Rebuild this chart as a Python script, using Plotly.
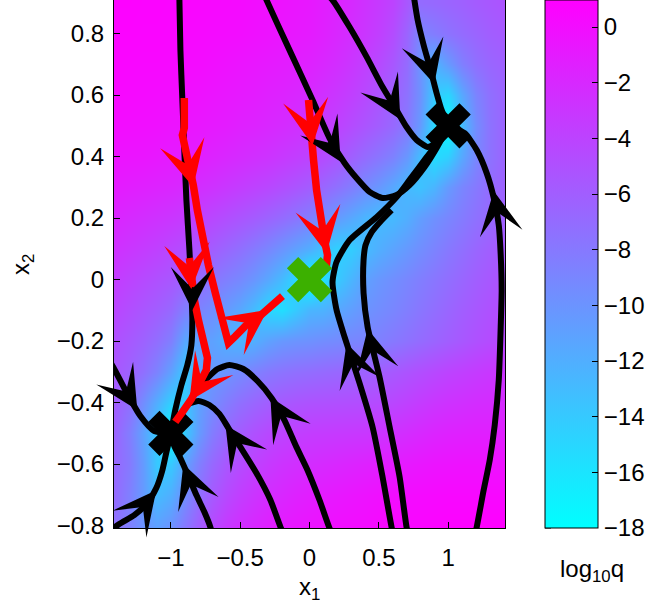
import plotly.graph_objects as go

# ---------------- heat map data (log10 q) ----------------
GRID_X = [-1.4, -1.3, -1.2, -1.1, -1.0, -0.9, -0.8, -0.7, -0.6, -0.5, -0.4, -0.3, -0.2, -0.1, 0.0,
          0.1, 0.2, 0.3, 0.4, 0.5, 0.6, 0.7, 0.8, 0.9, 1.0, 1.1, 1.2, 1.3, 1.4]
GRID_Y = [-0.8, -0.7, -0.6, -0.5, -0.4, -0.3, -0.2, -0.1, 0.0, 0.1, 0.2, 0.3, 0.4, 0.5, 0.6, 0.7, 0.8, 0.9]
LOG10Q = [
    [-7.5, -8.5, -10, -11, -10, -8, -6, -4.5, -3.3, -2.5, -1.9, -1.4, -1.0, -0.7, -0.5, -0.3, -0.1, 0, 0.1, 0.3, 0.4, 0.5, 0.6, 0.7, 0.8, 0.8, 0.9, 0.9, 1.0],
    [-7, -8.5, -10.5, -13, -12, -9.5, -7.3, -5.7, -4.5, -3.6, -2.9, -2.3, -1.9, -1.5, -1.2, -1, -0.8, -0.6, -0.4, -0.2, 0, 0.1, 0.2, 0.3, 0.4, 0.4, 0.4, 0.4, 0.4],
    [-6.8, -8, -10.5, -14, -14, -11, -8.5, -6.8, -5.5, -4.6, -3.9, -3.3, -2.8, -2.5, -2.3, -2.1, -1.9, -1.7, -1.5, -1.3, -1.1, -0.9, -0.7, -0.5, -0.4, -0.3, -0.3, -0.3, -0.3],
    [-6.5, -8.3, -11, -14, -18, -14, -10.5, -8.3, -6.8, -5.8, -5, -4.4, -4, -3.7, -3.5, -3.4, -3.3, -3.2, -3.1, -2.9, -2.6, -2.3, -2, -1.7, -1.5, -1.4, -1.3, -1.3, -1.3],
    [-6, -7.2, -9.5, -12, -14.5, -14, -11, -9.5, -8.3, -7.3, -6.6, -6, -5.6, -5.3, -5.1, -5, -4.9, -4.8, -4.7, -4.5, -4.2, -3.8, -3.4, -3, -2.7, -2.5, -2.3, -2.2, -2.1],
    [-5.5, -6.3, -7.3, -8.8, -11, -14, -11.5, -10.5, -10, -9.3, -8.6, -8, -7.6, -7.3, -7.1, -6.9, -6.7, -6.5, -6.3, -6, -5.6, -5.2, -4.8, -4.4, -4, -3.7, -3.4, -3.1, -2.9],
    [-5, -5.6, -6.3, -7.2, -8.5, -11.5, -11, -11, -12, -12.5, -12, -11, -10.3, -10, -9.8, -9.5, -9.3, -9, -8.8, -8.5, -8, -7.5, -7, -6.5, -6, -5.5, -5, -4.6, -4.3],
    [-4.2, -4.8, -5.4, -6, -6.8, -8.5, -8.8, -9.5, -10.5, -11.5, -13, -15, -15.5, -14, -12.5, -12.3, -11.5, -10.8, -10, -9.5, -9, -8.4, -7.8, -7.2, -6.6, -6, -5.5, -5, -4.6],
    [-3.5, -4, -4.5, -5, -5.5, -6.2, -7, -7.8, -8.5, -9.2, -10.2, -11.5, -13, -15, -18, -15.5, -14, -12.5, -11, -10.2, -9.6, -9, -8.4, -7.8, -7.2, -6.6, -6, -5.5, -5],
    [-2.6, -3, -3.4, -3.8, -4.3, -4.8, -5.3, -5.9, -6.6, -7.3, -8.1, -9, -10, -11, -12, -13.5, -14.5, -14.3, -13, -12, -11.2, -10.4, -9.6, -8.8, -8, -7.3, -6.6, -6, -5.5],
    [-1.8, -2.1, -2.4, -2.7, -3, -3.4, -3.8, -4.3, -4.8, -5.3, -5.8, -6.4, -7, -7.7, -8.4, -9.4, -10.5, -11.5, -12.5, -13, -12.8, -12, -10.8, -9.8, -9, -8.2, -7.4, -6.8, -6.2],
    [-1, -1.2, -1.4, -1.6, -1.8, -2.1, -2.4, -2.7, -3.1, -3.5, -3.9, -4.3, -4.8, -5.3, -5.9, -6.6, -7.4, -8.3, -9.3, -10.3, -11.5, -12.8, -13.5, -12.5, -10.5, -9, -8, -7, -6.3],
    [-0.4, -0.5, -0.6, -0.8, -1, -1.1, -1.3, -1.6, -1.9, -2.2, -2.5, -2.8, -3.2, -3.6, -4, -4.6, -5.3, -6.1, -7, -7.8, -8.7, -10.3, -13, -15.5, -14.5, -11.5, -9, -7.5, -6.5],
    [0.1, 0, -0.1, -0.2, -0.4, -0.5, -0.7, -0.9, -1.1, -1.4, -1.6, -1.9, -2.2, -2.5, -2.8, -3.3, -3.9, -4.6, -5.3, -6, -6.8, -8, -10.5, -15, -18, -13, -9.5, -7.5, -6.5],
    [0.4, 0.3, 0.2, 0.1, 0, -0.1, -0.3, -0.5, -0.7, -0.9, -1.1, -1.4, -1.6, -1.9, -2.1, -2.6, -3.1, -3.7, -4.4, -5.2, -6.2, -7.5, -9.8, -14, -15, -11.5, -8.8, -7.3, -6.5],
    [0.6, 0.5, 0.4, 0.4, 0.3, 0.2, 0.1, -0.1, -0.3, -0.5, -0.7, -0.9, -1.1, -1.3, -1.5, -1.9, -2.4, -3, -3.7, -4.5, -5.5, -7, -10, -12.5, -10.5, -8.5, -7.3, -6.6, -6.2],
    [0.7, 0.7, 0.6, 0.6, 0.5, 0.4, 0.3, 0.2, 0.1, 0, -0.2, -0.4, -0.6, -0.8, -1, -1.4, -1.9, -2.4, -3, -3.7, -4.7, -6.5, -9, -8.3, -7.6, -7, -6.5, -6, -5.7],
    [0.8, 0.8, 0.7, 0.7, 0.6, 0.6, 0.5, 0.4, 0.3, 0.2, 0, -0.2, -0.4, -0.6, -0.8, -1.2, -1.6, -2.1, -2.7, -3.3, -4, -5.5, -7, -6.8, -6.5, -6.2, -5.8, -5.5, -5.2],
]

# ---------------- trajectories (black) ----------------
BLACK_A = [(-0.939, 0.925), (-0.931, 0.746), (-0.917, 0.584), (-0.903, 0.421), (-0.888, 0.259),
           (-0.866, 0.096), (-0.852, -0.034), (-0.845, -0.132), (-0.852, -0.213), (-0.881, -0.278),
           (-0.924, -0.343), (-0.968, -0.424), (-1.0, -0.5)]
BLACK_B = [(-1.48, -0.831), (-1.372, -0.795), (-1.264, -0.766), (-1.170, -0.727), (-1.105, -0.678),
           (-1.061, -0.620), (-1.032, -0.561), (-1.0, -0.5)]
BLACK_C = [(-1.48, -0.236), (-1.415, -0.285), (-1.321, -0.366), (-1.220, -0.444), (-1.119, -0.493),
           (-1.0, -0.5)]
BLACK_D = [(0.181, -0.847), (0.144, -0.808), (0.072, -0.717), (-0.014, -0.620), (-0.094, -0.545),
           (-0.181, -0.457), (-0.274, -0.385), (-0.375, -0.330), (-0.477, -0.291), (-0.578, -0.278),
           (-0.664, -0.291), (-0.744, -0.324), (-0.794, -0.350)]
BLACK_E = [(-0.166, -0.847), (-0.209, -0.805), (-0.282, -0.717), (-0.383, -0.629), (-0.498, -0.545),
           (-0.585, -0.483), (-0.650, -0.437), (-0.722, -0.408), (-0.801, -0.395), (-0.874, -0.405)]
BLACK_F = [(-0.693, -0.847), (-0.715, -0.805), (-0.758, -0.756), (-0.816, -0.701), (-0.874, -0.639),
           (-0.931, -0.581), (-0.975, -0.542), (-1.0, -0.5)]
BLACK_G = [(0.751, 0.925), (0.780, 0.844), (0.823, 0.763), (0.874, 0.681), (0.917, 0.606),
           (0.953, 0.551), (1.0, 0.5)]
BLACK_H = [(0.130, 0.925), (0.166, 0.909), (0.289, 0.821), (0.412, 0.724), (0.527, 0.626),
           (0.628, 0.551), (0.700, 0.496), (0.773, 0.454), (0.852, 0.431), (0.910, 0.444)]
BLACK_I = [(-0.325, 0.925), (-0.310, 0.909), (-0.144, 0.746), (0.022, 0.584), (0.144, 0.460),
           (0.253, 0.379), (0.339, 0.330), (0.433, 0.285), (0.527, 0.265), (0.628, 0.275),
           (0.722, 0.307), (0.830, 0.366), (0.917, 0.428), (0.975, 0.476), (1.0, 0.5)]
BLACK_J = [(0.614, -0.847), (0.592, -0.805), (0.527, -0.642), (0.455, -0.480), (0.361, -0.337),
           (0.253, -0.187), (0.195, -0.099), (0.166, -0.008), (0.195, 0.057), (0.289, 0.128),
           (0.484, 0.203), (0.628, 0.268), (0.722, 0.324), (0.845, 0.398), (0.939, 0.454), (1.0, 0.5)]
BLACK_K = [(0.722, -0.847), (0.700, -0.805), (0.650, -0.642), (0.578, -0.480), (0.505, -0.317),
           (0.419, -0.154), (0.390, -0.044), (0.390, 0.063), (0.404, 0.112), (0.448, 0.154),
           (0.520, 0.193), (0.592, 0.226)]
BLACK_L = [(1.184, -0.847), (1.206, -0.805), (1.256, -0.685), (1.300, -0.587), (1.336, -0.473),
           (1.365, -0.327), (1.379, -0.154), (1.386, -0.034), (1.379, 0.080), (1.365, 0.177),
           (1.329, 0.265), (1.278, 0.346), (1.206, 0.421), (1.119, 0.476), (1.0, 0.5)]
BLACK_CURVES = [BLACK_A, BLACK_B, BLACK_C, BLACK_D, BLACK_E, BLACK_F,
                BLACK_G, BLACK_H, BLACK_I, BLACK_J, BLACK_K, BLACK_L]

# ---------------- paths (red) ----------------
RED_1 = [(-0.903, 0.590), (-0.903, 0.493), (-0.917, 0.470), (-0.895, 0.428), (-0.866, 0.379),
         (-0.838, 0.307), (-0.809, 0.226), (-0.773, 0.135), (-0.729, 0.047), (-0.679, -0.044),
         (-0.635, -0.125), (-0.606, -0.180), (-0.585, -0.206), (-0.534, -0.184), (-0.462, -0.151),
         (-0.375, -0.125), (-0.289, -0.089), (-0.195, -0.054)]
RED_2 = [(-0.866, 0.070), (-0.852, -0.002), (-0.830, -0.067), (-0.801, -0.132), (-0.765, -0.197),
         (-0.736, -0.255), (-0.744, -0.294), (-0.787, -0.337), (-0.852, -0.389), (-0.917, -0.431),
         (-0.968, -0.463)]
RED_3 = [(-0.007, 0.584), (0.007, 0.486), (0.029, 0.389), (0.051, 0.291), (0.079, 0.193),
         (0.108, 0.128), (0.130, 0.080), (0.123, 0.050), (0.087, 0.031), (0.036, 0.018)]
RED_CURVES = [RED_1, RED_2, RED_3]

# arrow heads: (head x, head y, tail x, tail y)
BLACK_ARROWS = [(-0.845, -0.100, -0.845, -0.020), (-1.105, -0.685, -1.191, -0.734),
                (-1.242, -0.424, -1.321, -0.366), (-0.282, -0.382, -0.170, -0.470),
                (-0.606, -0.473, -0.527, -0.528), (-0.910, -0.600, -0.840, -0.685),
                (0.900, 0.636, 0.845, 0.724), (0.655, 0.520, 0.565, 0.592),
                (0.225, 0.383, 0.135, 0.452), (0.267, -0.207, 0.328, -0.290),
                (0.419, -0.161, 0.462, -0.246), (1.329, 0.288, 1.363, 0.200)]
RED_ARROWS = [(-0.838, 0.301, -0.874, 0.366), (-0.303, -0.099, -0.433, -0.141),
              (-0.852, -0.031, -0.866, 0.034), (-0.866, -0.395, -0.787, -0.340),
              (0.022, 0.437, 0.0, 0.502), (0.123, 0.086, 0.094, 0.154)]

SADDLE_X = [1.0, -1.0]
SADDLE_Y = [0.5, -0.5]
CENTER_X = [0.0]
CENTER_Y = [0.0]

Y_TICKS = [-0.8, -0.6, -0.4, -0.2, 0, 0.2, 0.4, 0.6, 0.8]
X_TICKS = [-1, -0.5, 0, 0.5, 1]
CB_TICKS = [-18, -16, -14, -12, -10, -8, -6, -4, -2, 0]
ZMIN, ZMAX = -18, 0.97


def lab(v):
    s = f"{v:g}"
    return s.replace("-", "\u2212")


FONT = "Liberation Sans, Arial, Helvetica, sans-serif"
FS = 24
PLOT_W = 391
CB_LEFT = (545 - 114) / PLOT_W

fig = go.Figure()
fig.add_trace(go.Heatmap(
    x=GRID_X, y=GRID_Y, z=LOG10Q, zmin=ZMIN, zmax=ZMAX, zsmooth="best",
    colorscale=[[0, "rgb(0,255,255)"], [1, "rgb(255,0,255)"]],
    hoverinfo="skip",
    colorbar=dict(
        thickness=53, thicknessmode="pixels", len=1, lenmode="fraction",
        y=0, yanchor="bottom", x=CB_LEFT, xanchor="left", xpad=0, ypad=0,
        outlinewidth=1, outlinecolor="black",
        ticks="inside", ticklen=6, tickcolor="black",
        tickvals=CB_TICKS, ticktext=[lab(v) for v in CB_TICKS],
        tickfont=dict(size=FS, family=FONT, color="black"),
    ),
))

for c in BLACK_CURVES:
    fig.add_trace(go.Scatter(x=[p[0] for p in c], y=[p[1] for p in c], mode="lines",
                             line=dict(color="black", width=6, shape="spline", smoothing=0.6),
                             hoverinfo="skip", showlegend=False))

fig.add_trace(go.Scatter(x=SADDLE_X, y=SADDLE_Y, mode="markers",
                         marker=dict(symbol="x", size=40, color="black", line=dict(width=0)),
                         hoverinfo="skip", showlegend=False))

for c in RED_CURVES:
    fig.add_trace(go.Scatter(x=[p[0] for p in c], y=[p[1] for p in c], mode="lines",
                             line=dict(color="rgb(255,0,0)", width=7.5),
                             hoverinfo="skip", showlegend=False))

fig.add_trace(go.Scatter(x=CENTER_X, y=CENTER_Y, mode="markers",
                         marker=dict(symbol="x", size=40, color="rgb(60,176,0)", line=dict(width=0)),
                         hoverinfo="skip", showlegend=False))

annotations = []
for (hx, hy, tx, ty) in BLACK_ARROWS:
    annotations.append(dict(x=hx, y=hy, ax=tx, ay=ty, xref="x", yref="y", axref="x", ayref="y",
                            text="", showarrow=True, arrowhead=3, arrowsize=3.6, arrowwidth=2,
                            arrowcolor="black", standoff=0))
for (hx, hy, tx, ty) in RED_ARROWS:
    annotations.append(dict(x=hx, y=hy, ax=tx, ay=ty, xref="x", yref="y", axref="x", ayref="y",
                            text="", showarrow=True, arrowhead=3, arrowsize=3.8, arrowwidth=2,
                            arrowcolor="rgb(255,0,0)", standoff=0))

annotations += [
    dict(text="x<sub>1</sub>", x=0.5, y=(528 - 588) / 528, xref="paper", yref="paper",
         showarrow=False, font=dict(size=FS, family=FONT, color="black"),
         xanchor="center", yanchor="middle"),
    dict(text="x<sub>2</sub>", x=(22 - 114) / PLOT_W, y=(528 - 265) / 528, xref="paper", yref="paper",
         showarrow=False, textangle=-90, font=dict(size=FS, family=FONT, color="black"),
         xanchor="center", yanchor="middle"),
    dict(text="log<sub>10</sub>q", x=(592 - 114) / PLOT_W, y=(528 - 570) / 528, xref="paper", yref="paper",
         showarrow=False, font=dict(size=FS, family=FONT, color="black"),
         xanchor="center", yanchor="middle"),
]

# tick marks on the left edge of the colour bar
shapes = []
for v in CB_TICKS:
    yp = (v - ZMIN) / (ZMAX - ZMIN)
    shapes.append(dict(type="line", xref="paper", yref="paper", x0=CB_LEFT, x1=CB_LEFT + 6 / PLOT_W,
                       y0=yp, y1=yp, line=dict(color="black", width=1)))

axis_common = dict(showgrid=False, zeroline=False, ticks="inside", ticklen=6, tickcolor="black",
                   tickwidth=1, tickfont=dict(size=FS, family=FONT, color="black"))

fig.update_layout(
    width=652, height=609,
    margin=dict(l=114, r=147, t=0, b=81),
    paper_bgcolor="white", plot_bgcolor="white",
    showlegend=False,
    annotations=annotations,
    shapes=shapes,
    xaxis=dict(range=[-1.41, 1.41], tickvals=X_TICKS, ticktext=[lab(v) for v in X_TICKS],
               showline=True, linecolor="black", linewidth=1, mirror=False,
               ticklabelstandoff=8, **axis_common),
    yaxis=dict(range=[-0.808, 0.909], tickvals=Y_TICKS, ticktext=[lab(v) for v in Y_TICKS],
               showline=True, linecolor="black", linewidth=1, mirror=True,
               ticklabelstandoff=4, **axis_common),
    xaxis2=dict(range=[-1.41, 1.41], overlaying="x", side="top", anchor="y", tickvals=X_TICKS,
                showticklabels=False, showline=False, **axis_common),
    yaxis2=dict(range=[-0.808, 0.909], overlaying="y", side="right", anchor="x", tickvals=Y_TICKS,
                showticklabels=False, showline=False, **axis_common),
)

fig.write_html("out.html")
